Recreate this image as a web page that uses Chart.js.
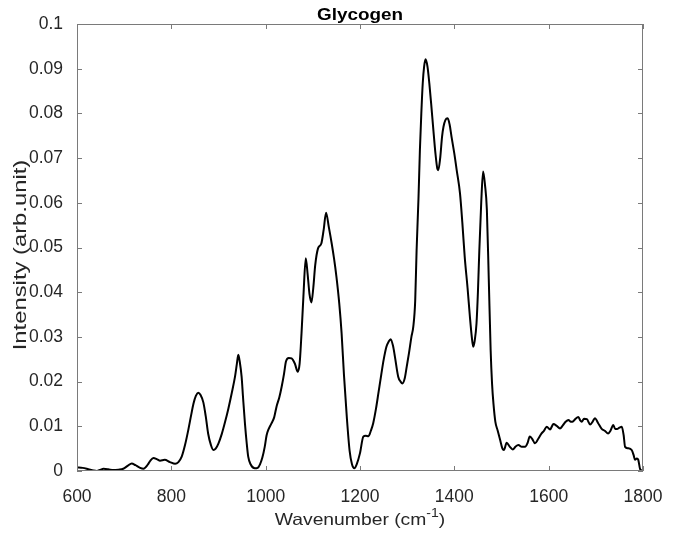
<!DOCTYPE html>
<html>
<head>
<meta charset="utf-8">
<script src="https://cdn.jsdelivr.net/npm/chart.js@4/dist/chart.umd.min.js"></script>
<style>
  html, body { margin: 0; padding: 0; background: #fff; }
  #wrap { width: 681px; height: 537px; }
</style>
</head>
<body>
<div id="wrap"><canvas id="ramanChart" width="681" height="537"></canvas></div>
<script>
// Raman spectrum of glycogen
const wavenumbers = [
  600, 612, 624, 635, 642, 650, 656, 666, 677, 688, 698, 708, 716, 724, 732, 741,
  750, 756, 762, 770, 776, 786, 797, 808, 815, 822, 829, 836, 842, 847, 852, 857,
  862, 868, 873, 878, 884, 889, 894, 900, 907, 914, 921, 928, 935, 939, 942, 945,
  949, 952, 956, 960, 963, 968, 977, 983, 988, 993, 998, 1002, 1006, 1012, 1018, 1023,
  1029, 1034, 1039, 1043, 1049, 1055, 1062, 1068, 1072, 1076, 1080, 1085, 1089, 1093, 1097, 1101,
  1105, 1111, 1118, 1123, 1128, 1134, 1140, 1145, 1150, 1156, 1161, 1166, 1172, 1178, 1183, 1188,
  1193, 1200, 1207, 1212, 1218, 1223, 1228, 1234, 1239, 1245, 1250, 1256, 1261, 1265, 1270, 1274,
  1281, 1286, 1290, 1295, 1299, 1304, 1309, 1313, 1317, 1320, 1324, 1327, 1330, 1333, 1336, 1339,
  1343, 1347, 1351, 1355, 1360, 1364, 1366, 1370, 1374, 1377, 1381, 1386, 1390, 1394, 1400, 1405,
  1412, 1417, 1422, 1428, 1433, 1437, 1440, 1443, 1447, 1450, 1453, 1457, 1461, 1465, 1469, 1473,
  1477, 1480, 1483, 1487, 1492, 1497, 1502, 1505, 1511, 1517, 1524, 1530, 1536, 1543, 1550, 1555,
  1560, 1565, 1571, 1578, 1585, 1590, 1596, 1603, 1610, 1617, 1624, 1630, 1636, 1642, 1647, 1652,
  1657, 1663, 1667, 1670, 1675, 1681, 1688, 1693, 1698, 1705, 1712, 1719, 1726, 1731, 1737, 1741,
  1745, 1750, 1755, 1759, 1762, 1768, 1776, 1780, 1783, 1787, 1790, 1794, 1797
];
const intensity = [
  0.0008, 0.0007, 0.0004, 0.0001, 0.0000, 0.0003, 0.0005, 0.0004, 0.0002, 0.0003, 0.0005, 0.0012, 0.0017, 0.0013, 0.0008, 0.0005,
  0.0014, 0.0024, 0.0029, 0.0026, 0.0023, 0.0025, 0.0020, 0.0016, 0.0020, 0.0032, 0.0058, 0.0092, 0.0125, 0.0151, 0.0168, 0.0175,
  0.0170, 0.0153, 0.0122, 0.0084, 0.0058, 0.0047, 0.0050, 0.0062, 0.0083, 0.0110, 0.0140, 0.0174, 0.0211, 0.0240, 0.0260, 0.0245,
  0.0211, 0.0165, 0.0107, 0.0060, 0.0032, 0.0015, 0.0006, 0.0007, 0.0015, 0.0030, 0.0054, 0.0080, 0.0093, 0.0106, 0.0120, 0.0144,
  0.0165, 0.0189, 0.0218, 0.0245, 0.0253, 0.0252, 0.0240, 0.0222, 0.0240, 0.0308, 0.0390, 0.0476, 0.0440, 0.0395, 0.0377, 0.0410,
  0.0460, 0.0498, 0.0509, 0.0540, 0.0578, 0.0545, 0.0509, 0.0475, 0.0435, 0.0375, 0.0308, 0.0215, 0.0121, 0.0045, 0.0015, 0.0006,
  0.0015, 0.0040, 0.0077, 0.0079, 0.0078, 0.0090, 0.0107, 0.0140, 0.0174, 0.0215, 0.0248, 0.0278, 0.0290, 0.0295, 0.0280, 0.0256,
  0.0211, 0.0200, 0.0196, 0.0208, 0.0233, 0.0265, 0.0300, 0.0323, 0.0380, 0.0494, 0.0610, 0.0718, 0.0800, 0.0867, 0.0905, 0.0921,
  0.0905, 0.0867, 0.0820, 0.0770, 0.0710, 0.0676, 0.0673, 0.0700, 0.0748, 0.0770, 0.0785, 0.0789, 0.0775, 0.0748, 0.0710, 0.0673,
  0.0621, 0.0555, 0.0479, 0.0410, 0.0345, 0.0300, 0.0278, 0.0290, 0.0330, 0.0400, 0.0494, 0.0600, 0.0670, 0.0640, 0.0584, 0.0430,
  0.0270, 0.0195, 0.0150, 0.0110, 0.0090, 0.0070, 0.0050, 0.0047, 0.0063, 0.0055, 0.0048, 0.0055, 0.0058, 0.0054, 0.0054, 0.0062,
  0.0077, 0.0072, 0.0062, 0.0072, 0.0084, 0.0090, 0.0099, 0.0093, 0.0105, 0.0101, 0.0095, 0.0102, 0.0110, 0.0114, 0.0110, 0.0111,
  0.0117, 0.0121, 0.0113, 0.0110, 0.0117, 0.0116, 0.0104, 0.0110, 0.0118, 0.0107, 0.0095, 0.0090, 0.0084, 0.0090, 0.0103, 0.0094,
  0.0094, 0.0097, 0.0099, 0.0080, 0.0054, 0.0051, 0.0047, 0.0036, 0.0025, 0.0028, 0.0025, 0.0004, 0.0002
];

const xTicks = [600, 800, 1000, 1200, 1400, 1600, 1800];
const yTicks = [0, 0.01, 0.02, 0.03, 0.04, 0.05, 0.06, 0.07, 0.08, 0.09, 0.1];
const yTickLabels = ['0', '0.01', '0.02', '0.03', '0.04', '0.05', '0.06', '0.07', '0.08', '0.09', '0.1'];

const FONT = "'Liberation Sans', Arial, Helvetica, sans-serif";
const AXIS_GREY = '#7a7a7a';
const TEXT_GREY = '#262626';

// draws a row of text pieces, centred on (cx, cy-baseline), stretched along the text by sx
function drawStretched(ctx, parts, cx, baseline, sx) {
  let total = 0;
  parts.forEach(p => { ctx.font = p.font; p.w = ctx.measureText(p.text).width; total += p.w; });
  ctx.save();
  ctx.translate(cx, baseline);
  ctx.scale(sx, 1);
  ctx.textAlign = 'left';
  ctx.textBaseline = 'alphabetic';
  let x = -total / 2;
  parts.forEach(p => {
    ctx.font = p.font;
    ctx.fillText(p.text, x, p.dy || 0);
    x += p.w;
  });
  ctx.restore();
}

// MATLAB-style box with inward ticks on all four sides, plus title and axis labels
const boxPlugin = {
  id: 'matlabBox',
  afterDatasetsDraw(chart) {
    const { ctx, chartArea: a, scales } = chart;
    ctx.save();
    ctx.strokeStyle = AXIS_GREY;
    ctx.lineWidth = 1;
    ctx.strokeRect(a.left + 0.5, a.top + 0.5, a.right - a.left - 1, a.bottom - a.top - 1);
    ctx.beginPath();
    xTicks.forEach(v => {
      const px = Math.round(scales.x.getPixelForValue(v)) + 0.5;
      ctx.moveTo(px, a.bottom); ctx.lineTo(px, a.bottom - 5);
      ctx.moveTo(px, a.top); ctx.lineTo(px, a.top + 5);
    });
    yTicks.forEach(v => {
      const py = Math.round(scales.y.getPixelForValue(v)) + 0.5;
      ctx.moveTo(a.left, py); ctx.lineTo(a.left + 5, py);
      ctx.moveTo(a.right, py); ctx.lineTo(a.right - 5, py);
    });
    ctx.stroke();

    const midX = (a.left + a.right) / 2;
    // title
    ctx.fillStyle = '#000';
    drawStretched(ctx, [{ text: 'Glycogen', font: 'bold 16px ' + FONT }], midX, 20, 1.18);

    // x axis label with superscript
    ctx.fillStyle = TEXT_GREY;
    drawStretched(ctx, [
      { text: 'Wavenumber (cm', font: '16.5px ' + FONT },
      { text: '-1', font: '12px ' + FONT, dy: -8 },
      { text: ')', font: '16.5px ' + FONT }
    ], midX, 525, 1.17);

    // y axis label, rotated
    ctx.save();
    ctx.translate(26, 255);
    ctx.rotate(-Math.PI / 2);
    drawStretched(ctx, [{ text: 'Intensity (arb.unit)', font: '17.5px ' + FONT }], 0, 0, 1.36);
    ctx.restore();
    ctx.restore();
  }
};

const ctx = document.getElementById('ramanChart').getContext('2d');
const ramanChart = new Chart(ctx, {
  type: 'line',
  data: {
    datasets: [{
      label: 'Glycogen',
      data: wavenumbers.map((w, i) => ({ x: w, y: intensity[i] })),
      borderColor: '#000',
      borderWidth: 2,
      pointRadius: 0,
      fill: false,
      cubicInterpolationMode: 'monotone'
    }]
  },
  options: {
    responsive: false,
    animation: false,
    layout: { padding: { top: 24, right: 38, left: 0, bottom: 0 } },
    plugins: {
      legend: { display: false },
      tooltip: { enabled: false },
      title: { display: false }
    },
    scales: {
      x: {
        type: 'linear',
        min: 600,
        max: 1800,
        afterFit: (scale) => { scale.height = 66; },
        afterBuildTicks: (scale) => { scale.ticks = xTicks.map(v => ({ value: v })); },
        grid: { display: false },
        border: { display: false },
        ticks: {
          padding: 8,
          color: TEXT_GREY,
          maxRotation: 0,
          font: { family: FONT, size: 17.5 },
          callback: (v) => String(v)
        }
      },
      y: {
        type: 'linear',
        min: 0,
        max: 0.1,
        afterFit: (scale) => { scale.width = 77; },
        afterBuildTicks: (scale) => { scale.ticks = yTicks.map(v => ({ value: v })); },
        grid: { display: false },
        border: { display: false },
        ticks: {
          padding: 6,
          color: TEXT_GREY,
          font: { family: FONT, size: 17.5 },
          callback: (v, i) => yTickLabels[i]
        }
      }
    }
  },
  plugins: [boxPlugin]
});
</script>
</body>
</html>
